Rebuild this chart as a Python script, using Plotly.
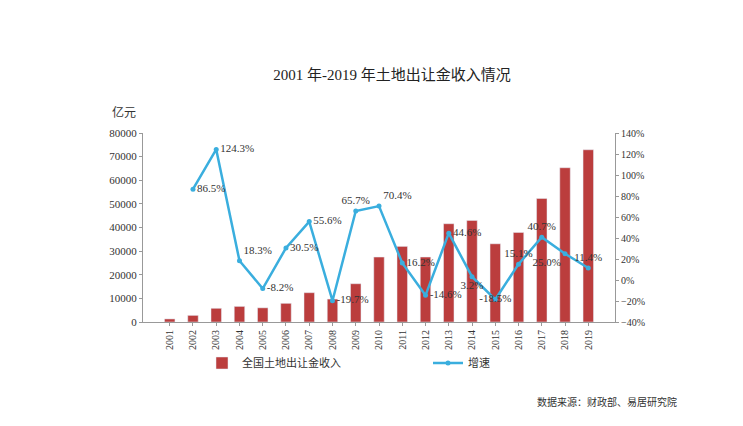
import plotly.graph_objects as go

# 数据
years = [str(y) for y in range(2001, 2020)]
revenue = [1300, 2800, 5800, 6600, 6000, 7900, 12400, 9700, 16200, 27500,
           32000, 27500, 41600, 43000, 33100, 37900, 52300, 65300, 72900]
growth = [None, 86.5, 124.3, 18.3, -8.2, 30.5, 55.6, -19.7, 65.7, 70.4,
          16.2, -14.6, 44.6, 3.2, -18.5, 15.1, 40.7, 25.0, 11.4]
growth_pos = ["middle right", "middle right", "middle right", "top right",
              "middle right", "middle right", "middle right", "middle right",
              "top center", "top right", "middle right", "middle right",
              "middle right", "bottom center", "middle center", "top center",
              "top center", "bottom left", "top center"]

serif = "Liberation Serif, Noto Sans CJK SC"

# 页面有 8px 的 body 边距，所有像素位置减去 8
OFF = 8
L, R, T, B = 143 - OFF, 615 - OFF, 133 - OFF, 322 - OFF
W, H = 743, 426


def px(x):
    return (x - OFF - L) / (R - L)


def py(y):
    return (B - (y - OFF)) / (B - T)


fig = go.Figure()

fig.add_trace(go.Bar(
    x=years, y=revenue, name="全国土地出让金收入",
    marker_color="#bb3d3d", width=0.45, legend="legend", showlegend=True,
))

fig.add_trace(go.Scatter(
    x=years, y=growth, name="增速", yaxis="y2", legend="legend2", showlegend=True,
    mode="lines+markers+text",
    line=dict(color="#3aaede", width=2.5),
    marker=dict(size=5, color="#3aaede"),
    text=[None if g is None else f"{g:.1f}%" for g in growth],
    textposition=growth_pos,
    textfont=dict(family=serif, size=11, color="#333333"),
    connectgaps=False,
))

legend_style = dict(orientation="h", xref="container", yref="container",
                    xanchor="left", yanchor="middle", bgcolor="rgba(0,0,0,0)",
                    font=dict(family="Noto Sans CJK SC", size=11, color="#333333"))

fig.update_layout(
    width=W, height=H,
    showlegend=True,
    margin=dict(l=L, r=W - R, t=T, b=H - B, autoexpand=False),
    paper_bgcolor="white", plot_bgcolor="white",
    font=dict(family=serif, size=10, color="#333333"),
    title=dict(text="2001 年-2019 年土地出让金收入情况", x=(392 - OFF) / W, xanchor="center",
               y=1 - (75 - OFF) / H, yanchor="middle",
               font=dict(family=serif, size=15, color="#222222")),
    xaxis=dict(type="category", tickangle=-90, showline=True, linecolor="#999999",
               ticks="outside", ticklen=3, tickcolor="#999999", showgrid=False,
               automargin=False,
               tickfont=dict(family=serif, size=10, color="#333333")),
    yaxis=dict(range=[0, 80000], dtick=10000, tickformat="d", showline=True,
               linecolor="#999999", ticks="outside", ticklen=3, tickcolor="#999999",
               showgrid=False, zeroline=False, automargin=False,
               tickfont=dict(family=serif, size=11, color="#333333")),
    yaxis2=dict(range=[-40, 140], dtick=20, overlaying="y", side="right",
                ticksuffix="%", showline=True, linecolor="#999999",
                ticks="outside", ticklen=3, tickcolor="#999999", showgrid=False,
                zeroline=False, automargin=False,
                tickfont=dict(family=serif, size=10, color="#333333")),
    legend=dict(legend_style, x=(202 - OFF) / W, y=1 - (363 - OFF) / H),
    legend2=dict(legend_style, x=(428 - OFF) / W, y=1 - (363 - OFF) / H),
    bargap=0.5,
)

fig.add_annotation(text="亿元", xref="paper", yref="paper", x=px(110),
                   y=py(112), showarrow=False, xanchor="left", yanchor="middle",
                   font=dict(family="Noto Sans CJK SC", size=12, color="#333333"))
fig.add_annotation(text="数据来源：财政部、易居研究院", xref="paper", yref="paper",
                   x=px(535), y=py(401), showarrow=False,
                   xanchor="left", yanchor="middle",
                   font=dict(family="Noto Sans CJK SC", size=10, color="#333333"))

fig.write_html("out.html")
